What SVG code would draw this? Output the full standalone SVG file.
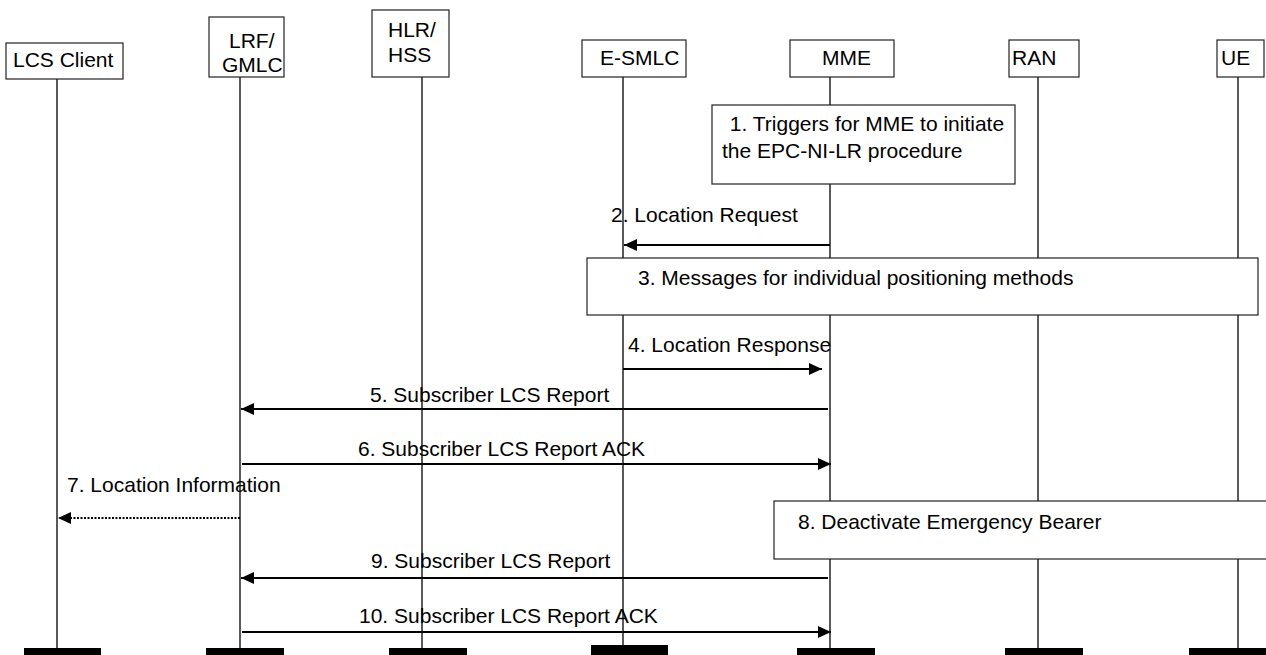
<svg xmlns="http://www.w3.org/2000/svg" width="1266" height="655" viewBox="0 0 1266 655">
<style>
text{font-family:"Liberation Sans",Arial,sans-serif;font-size:21px;fill:#000}
.box{fill:#fff;stroke:#222;stroke-width:1.2}
.life{stroke:#000;stroke-width:1.3}
.msg{stroke:#000;stroke-width:2.2;fill:none}
.dot{stroke:#000;stroke-width:2;fill:none;stroke-dasharray:2 1.5}
.bar{fill:#000}
</style>
<defs>
<marker id="ah" markerUnits="userSpaceOnUse" markerWidth="14" markerHeight="12" refX="13" refY="6" orient="auto">
<path d="M0,0 L13,6 L0,12 Z" fill="#000"/>
</marker>
</defs>
<g id="lifelines">
<line class="life" x1="57" y1="79" x2="57" y2="648"/>
<line class="life" x1="240" y1="77" x2="240" y2="648"/>
<line class="life" x1="422" y1="77" x2="422" y2="648"/>
<line class="life" x1="623" y1="77" x2="623" y2="648"/>
<line class="life" x1="830" y1="77" x2="830" y2="648"/>
<line class="life" x1="1038" y1="77" x2="1038" y2="648"/>
<line class="life" x1="1238" y1="77" x2="1238" y2="648"/>
</g>
<g id="bars">
<rect class="bar" x="24" y="648" width="77" height="7"/>
<rect class="bar" x="206" y="648" width="78" height="7"/>
<rect class="bar" x="389" y="648" width="78" height="7"/>
<rect class="bar" x="591" y="645" width="77" height="10"/>
<rect class="bar" x="797" y="648" width="78" height="7"/>
<rect class="bar" x="1005" y="648" width="78" height="7"/>
<rect class="bar" x="1189" y="648" width="77" height="7"/>
</g>
<g id="node-lcs-client">
<rect class="box" x="6" y="43" width="117" height="36"/>
<text x="13" y="67">LCS Client</text>
</g>
<g id="node-lrf-gmlc">
<rect class="box" x="209" y="17" width="75" height="60"/>
<text x="229" y="48">LRF/</text>
<text x="222" y="72">GMLC</text>
</g>
<g id="node-hlr-hss">
<rect class="box" x="372" y="10" width="77" height="67"/>
<text x="388" y="37">HLR/</text>
<text x="388" y="62">HSS</text>
</g>
<g id="node-esmlc">
<rect class="box" x="582" y="40" width="104" height="37"/>
<text x="600" y="65">E-SMLC</text>
</g>
<g id="node-mme">
<rect class="box" x="790" y="40" width="104" height="37"/>
<text x="822" y="65">MME</text>
</g>
<g id="node-ran">
<rect class="box" x="1009" y="40" width="70" height="37"/>
<text x="1012" y="65">RAN</text>
</g>
<g id="node-ue">
<rect class="box" x="1217" y="40" width="47" height="37"/>
<text x="1221" y="65">UE</text>
</g>
<g id="step1">
<rect class="box" x="712" y="105" width="303" height="79"/>
<text x="724" y="131" xml:space="preserve"> 1. Triggers for MME to initiate</text>
<text x="722" y="158">the EPC-NI-LR procedure</text>
</g>
<g id="step3">
<rect class="box" x="587" y="258" width="671" height="57"/>
<text x="638" y="285">3. Messages for individual positioning methods</text>
</g>
<g id="step8">
<rect class="box" x="774" y="501" width="495" height="58"/>
<text x="798" y="529">8. Deactivate Emergency Bearer</text>
</g>
<g id="connectors">
<line class="msg" x1="830" y1="245" x2="624" y2="245" marker-end="url(#ah)"/>
<line class="msg" x1="623" y1="369" x2="822" y2="369" marker-end="url(#ah)"/>
<line class="msg" x1="828" y1="409" x2="241" y2="409" marker-end="url(#ah)"/>
<line class="msg" x1="242" y1="464" x2="831" y2="464" marker-end="url(#ah)"/>
<line class="dot" x1="240" y1="518" x2="58" y2="518" marker-end="url(#ah)"/>
<line class="msg" x1="828" y1="578" x2="241" y2="578" marker-end="url(#ah)"/>
<line class="msg" x1="242" y1="632" x2="831" y2="632" marker-end="url(#ah)"/>
</g>
<g id="labels">
<text x="611" y="222">2. Location Request</text>
<text x="628" y="352">4. Location Response</text>
<text x="370" y="402">5. Subscriber LCS Report</text>
<text x="358" y="456">6. Subscriber LCS Report ACK</text>
<text x="67" y="492">7. Location Information</text>
<text x="371" y="568">9. Subscriber LCS Report</text>
<text x="359" y="623">10. Subscriber LCS Report ACK</text>
</g>
</svg>
